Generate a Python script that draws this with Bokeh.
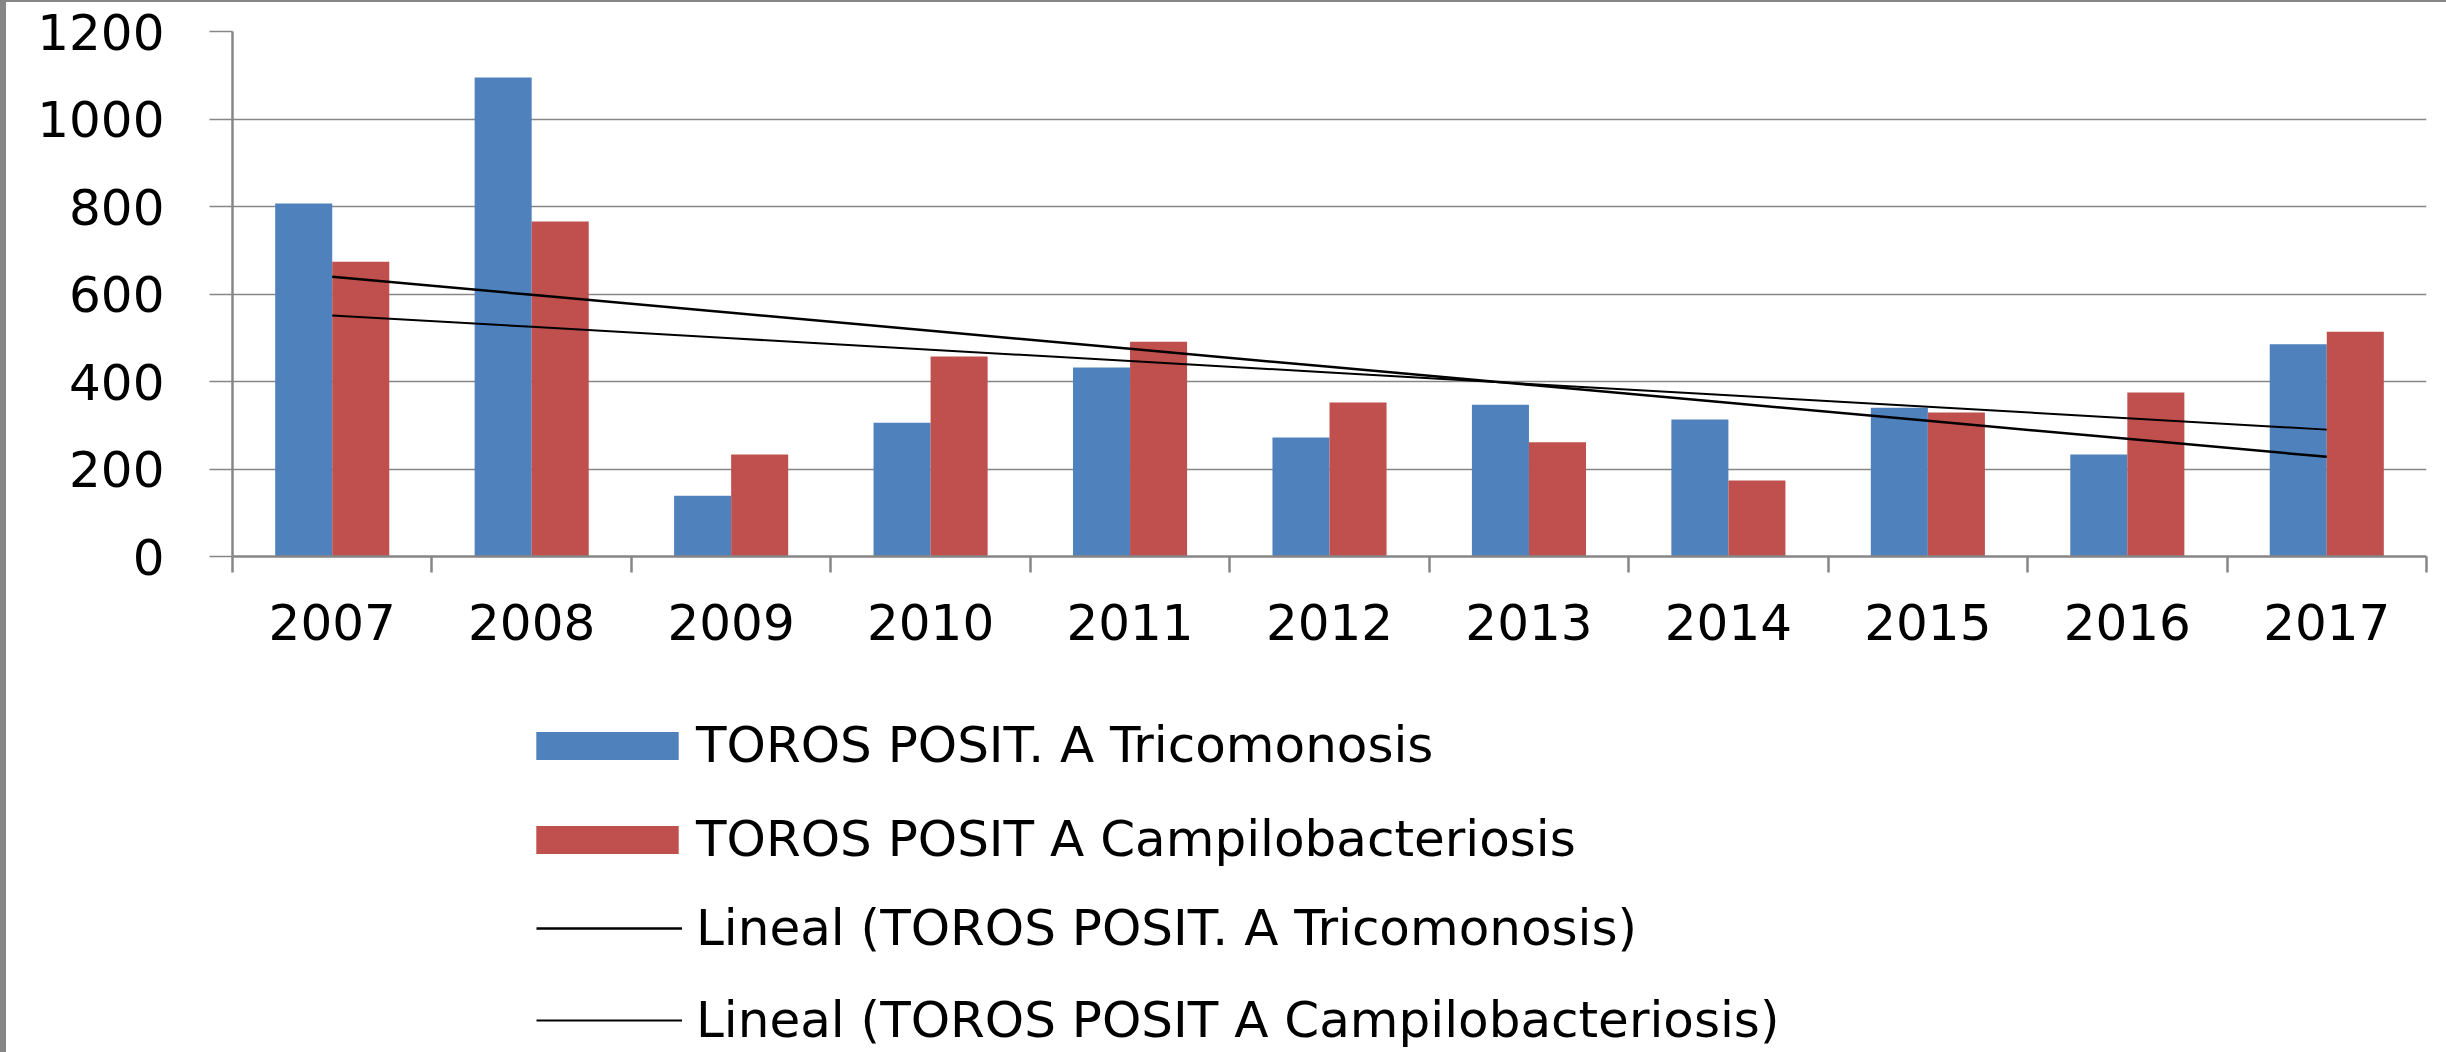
import numpy as np
from bokeh.plotting import figure
from bokeh.layouts import column, row
from bokeh.models import Range1d, FixedTicker, Legend, LegendItem, ColumnDataSource, Div
from bokeh.embed import file_html
from bokeh.resources import INLINE

# ---- data ----
years = ["2007", "2008", "2009", "2010", "2011", "2012", "2013", "2014", "2015", "2016", "2017"]
tricomonosis = [807, 1095, 139, 306, 432, 272, 347, 313, 340, 233, 485]
campilobacteriosis = [674, 766, 233, 457, 491, 352, 261, 174, 329, 375, 514]
y_ticks = [0, 200, 400, 600, 800, 1000, 1200]
series_names = ["TOROS POSIT. A Tricomonosis", "TOROS POSIT A Campilobacteriosis"]
trend_prefix = "Lineal"

# ---- style ----
BLUE = "#4F81BD"
RED = "#C0504D"
GRID = "#868686"
FONT = "DejaVu Sans"
FS = "50px"

n = len(years)
centers = np.arange(n) + 0.5
bar_w = 0.286

# linear trend lines (least squares over each series)
idx = np.arange(1, n + 1)
mt, bt = np.polyfit(idx, tricomonosis, 1)
mc, bc = np.polyfit(idx, campilobacteriosis, 1)

src = ColumnDataSource(dict(
    x_t=centers - bar_w / 2,
    x_c=centers + bar_w / 2,
    xm=centers,
    t=tricomonosis,
    c=campilobacteriosis,
    trend_t=mt * idx + bt,
    trend_c=mc * idx + bc,
))

EDGE = 6
W = 2440
H_TOP = 2
H_MAIN = 688
H_LEG = 362

p = figure(width=W, height=H_MAIN,
           x_range=Range1d(0, n), y_range=Range1d(0, 1200),
           output_backend="svg", toolbar_location=None,
           min_border_left=226, min_border_right=20,
           min_border_top=29, min_border_bottom=134)
p.outline_line_color = None
p.background_fill_color = "white"
p.border_fill_color = "white"

bar_t = dict(x="x_t", top="t", bottom=0, width=bar_w, fill_color=BLUE, line_color=None)
bar_c = dict(x="x_c", top="c", bottom=0, width=bar_w, fill_color=RED, line_color=None)
line_t = dict(x="xm", y="trend_t", line_color="black", line_width=2.5)
line_c = dict(x="xm", y="trend_c", line_color="black", line_width=2)

p.vbar(source=src, **bar_t)
p.vbar(source=src, **bar_c)
p.line(source=src, **line_t)
p.line(source=src, **line_c)

# ---- x axis: labels at category centres, ticks at category boundaries ----
xa = p.xaxis[0]
xa.ticker = FixedTicker(ticks=list(centers), minor_ticks=list(range(n + 1)))
xa.major_label_overrides = {float(c): y for c, y in zip(centers, years)}
xa.major_tick_line_color = None
xa.major_tick_out = 0
xa.major_tick_in = 0
xa.minor_tick_line_color = GRID
xa.minor_tick_line_width = 2.5
xa.minor_tick_out = 16
xa.minor_tick_in = 0
xa.axis_line_color = GRID
xa.axis_line_width = 2.5
xa.major_label_text_font = FONT
xa.major_label_text_font_size = FS
xa.major_label_text_color = "black"
xa.major_label_standoff = 31

# ---- y axis ----
ya = p.yaxis[0]
ya.ticker = FixedTicker(ticks=y_ticks, minor_ticks=[])
ya.major_tick_out = 23
ya.major_tick_in = 0
ya.major_tick_line_color = GRID
ya.major_tick_line_width = 1.5
ya.minor_tick_line_color = None
ya.axis_line_color = GRID
ya.axis_line_width = 2.5
ya.major_label_text_font = FONT
ya.major_label_text_font_size = FS
ya.major_label_text_color = "black"
ya.major_label_standoff = 45

p.xgrid.grid_line_color = None
p.ygrid.ticker = FixedTicker(ticks=y_ticks)
p.ygrid.grid_line_color = GRID
p.ygrid.grid_line_width = 1.5

# ---- legend panel (below the chart) ----
q = figure(width=W, height=H_LEG, x_range=Range1d(0, n), y_range=Range1d(0, 1200),
           output_backend="svg", toolbar_location=None,
           x_axis_location=None, y_axis_location=None,
           min_border_left=0, min_border_right=0, min_border_top=0, min_border_bottom=0)
q.outline_line_color = None
q.grid.grid_line_color = None
q.background_fill_color = "white"
q.border_fill_color = "white"

# the legend's series (hidden here; they are drawn in the chart above)
kt = q.vbar(source=src, visible=False, **bar_t)
kc = q.vbar(source=src, visible=False, **bar_c)
klt = q.line(source=src, visible=False, **line_t)
klc = q.line(source=src, visible=False, **line_c)

common = dict(padding=0, margin=0, border_line_color=None,
              background_fill_alpha=0, label_text_font=FONT,
              label_text_font_size=FS, label_text_color="black",
              label_height=64, click_policy="none", inactive_fill_alpha=0)

leg_bars = Legend(items=[LegendItem(label=series_names[0], renderers=[kt]),
                         LegendItem(label=series_names[1], renderers=[kc])],
                  location=(286, 181), glyph_width=178, glyph_height=35,
                  label_standoff=0, spacing=30, **common)
q.add_layout(leg_bars, "center")

leg_lines = Legend(items=[LegendItem(label=f"{trend_prefix} ({series_names[0]})", renderers=[klt]),
                          LegendItem(label=f"{trend_prefix} ({series_names[1]})", renderers=[klc])],
                   location=(304, 0), glyph_width=146, glyph_height=64,
                   label_standoff=14, spacing=28, **common)
q.add_layout(leg_lines, "center")

# chart-area border seen on the left and top edges of the reference
left_edge = Div(width=EDGE, height=H_TOP + H_MAIN + H_LEG, margin=0,
                styles={"background-color": GRID})
top_edge = Div(width=W, height=H_TOP, margin=0, styles={"background-color": GRID})

layout = row(left_edge, column(top_edge, p, q, spacing=0), spacing=0)
open("out.html", "w").write(file_html(layout, INLINE))
